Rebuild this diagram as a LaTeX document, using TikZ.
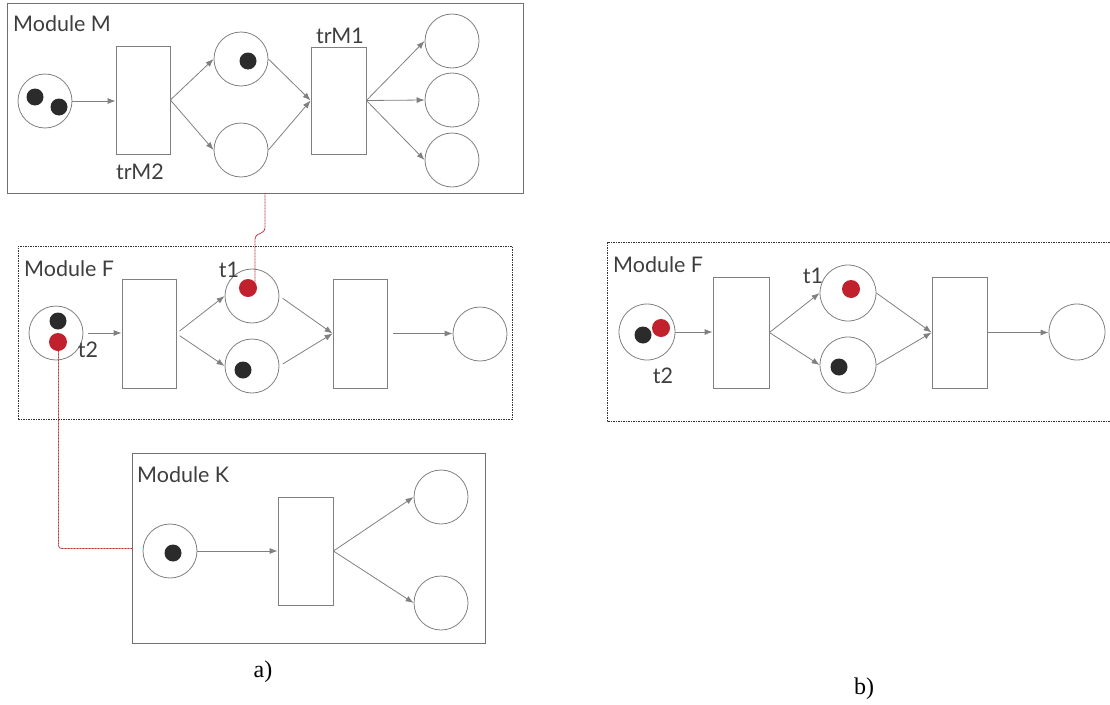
\documentclass[tikz,border=0pt]{standalone}
\usepackage{fontspec}
\setmainfont{Lato}
\newfontfamily\capfont{Liberation Serif}
\usetikzlibrary{arrows.meta}
\definecolor{edge}{HTML}{808080}
\definecolor{frame}{HTML}{707070}
\definecolor{ink}{HTML}{3E3E3E}
\definecolor{tokblack}{HTML}{2B2B2B}
\definecolor{tokred}{HTML}{C1212D}
\definecolor{linkred}{HTML}{B8323C}
\begin{document}
\begin{tikzpicture}[x=1pt,y=-1pt,
  place/.style={circle, draw=edge, line width=0.8pt, minimum size=54pt, inner sep=0pt},
  bigplace/.style={place, minimum size=56pt},
  trans/.style={rectangle, draw=edge, line width=0.8pt, inner sep=0pt, minimum width=54pt, minimum height=108pt},
  tokb/.style={circle, fill=tokblack, minimum size=17pt, inner sep=0pt},
  tokr/.style={circle, fill=tokred, minimum size=18pt, inner sep=0pt},
  arc/.style={draw=edge, line width=0.8pt, -{Latex[length=8pt,width=6pt]}},
  modsolid/.style={rectangle, draw=frame, line width=1pt, inner sep=0pt, anchor=north west},
  moddash/.style={rectangle, draw=black!80, line width=0.8pt, dash pattern=on 1.5pt off 1pt, inner sep=0pt, anchor=north west},
  modtitle/.style={font=\fontsize{21.5}{25}\selectfont, text=ink, inner sep=0pt, anchor=west},
  lbl/.style={font=\fontsize{21.5}{25}\selectfont, text=ink, inner sep=0pt},
  link/.style={draw=linkred, line width=0.9pt, dash pattern=on 1pt off 0.5pt, rounded corners=3pt},
  caption/.style={font=\capfont\fontsize{24}{28}\selectfont, text=black, inner sep=0pt}]
\useasboundingbox (0,0) rectangle (1110,704);

% ---------- module frames ----------
\node[modsolid, minimum width=516pt, minimum height=190pt] (mM) at (7,3) {};
\node[moddash, minimum width=494pt, minimum height=173pt] (mF) at (18,246) {};
\node[modsolid, minimum width=353pt, minimum height=190pt] (mK) at (132,453) {};
\draw[draw=black!80, line width=0.8pt, dash pattern=on 1.5pt off 1pt]
  (1112,242) -- (607,242) -- (607,421) -- (1112,421);

\node[modtitle] (tiM) at (13,24) {Module M};
\node[modtitle] (tiF) at (24,269) {Module F};
\node[modtitle] (tiK) at (137,475) {Module K};
\node[modtitle] (tiFb) at (613,265) {Module F};

% ---------- Module M ----------
\node[place] (pM1) at (45,101) {};
\node[trans] (tM2) at (143,100) {};
\node[place] (pM2) at (241,59) {};
\node[place] (pM3) at (241,150) {};
\node[trans, minimum width=55pt, minimum height=107pt] (tM1) at (338.5,100.5) {};
\node[place] (pM4) at (452,41) {};
\node[place] (pM5) at (452,100) {};
\node[place] (pM6) at (452,160) {};
\node[lbl] (lM2) at (140,172) {trM2};
\node[lbl] (lM1) at (340,36) {trM1};

\draw[arc] (pM1.east) -- (pM1.east -| tM2.west);
\draw[arc] (tM2.east) -- (pM2.west);
\draw[arc] (tM2.east) -- (pM3.west);
\draw[arc] (pM2.east) -- (tM1.west);
\draw[arc] (pM3.east) -- (tM1.west);
\draw[arc] (tM1.east) -- (pM4.west);
\draw[arc] (tM1.east) -- (pM5.west);
\draw[arc] (tM1.east) -- (pM6.west);

% ---------- Module F (a) ----------
\node[place] (pF1) at (56,333) {};
\node[trans, minimum height=109pt] (tF1) at (149,333.5) {};
\node[place] (pF2) at (252,296) {};
\node[place] (pF3) at (252,366) {};
\node[trans, minimum height=109pt] (tF2) at (360,333.5) {};
\node[place] (pF4) at (480,334) {};
\node[lbl] (lt1) at (229,270) {t1};
\node[lbl] (lt2) at (88,350) {t2};

\draw[arc, shorten <=5pt] (pF1.east) -- (pF1.east -| tF1.west);
\draw[arc, shorten <=4pt] (tF1.east) -- (pF2.west);
\draw[arc, shorten <=4pt] (tF1.east) -- (pF3.west);
\draw[arc, shorten <=4pt] (pF2.east) -- (tF2.west);
\draw[arc, shorten <=4pt] (pF3.east) -- (tF2.west);
\draw[arc, shorten <=6pt] (tF2.east) -- (tF2.east -| pF4.west);

% ---------- Module K ----------
\node[place] (pK1) at (170,551) {};
\node[trans, minimum width=55pt] (tK) at (305.5,551) {};
\node[place] (pK2) at (441,497) {};
\node[place] (pK3) at (441,603) {};

\draw[arc] (pK1.east) -- (pK1.east -| tK.west);
\draw[arc] (tK.east) -- (pK2.west);
\draw[arc] (tK.east) -- (pK3.west);

% ---------- Module F (b) ----------
\node[bigplace] (pB1) at (647,332) {};
\node[trans, minimum width=56pt, minimum height=111pt] (tB1) at (741,332.5) {};
\node[bigplace] (pB2) at (848,293) {};
\node[bigplace] (pB3) at (848,365) {};
\node[trans, minimum width=55pt, minimum height=111pt] (tB2) at (959.5,332.5) {};
\node[bigplace] (pB4) at (1077,332) {};
\node[lbl] (lbt1) at (813,276) {t1};
\node[lbl] (lbt2) at (663,376) {t2};

\draw[arc] (pB1.east) -- (pB1.east -| tB1.west);
\draw[arc] (tB1.east) -- (pB2.west);
\draw[arc] (tB1.east) -- (pB3.west);
\draw[arc] (pB2.east) -- (tB2.west);
\draw[arc] (pB3.east) -- (tB2.west);
\draw[arc] (tB2.east) -- (tB2.east -| pB4.west);

% ---------- shared-place links ----------
\coordinate (cM) at (265,193);
\coordinate (cT1) at (255,283);
\draw[link] (cM) -- (265,231) -- (255,236) -- (cT1);
\coordinate (cT2) at (58.5,342);
\draw[link] (cT2) |- (mK.west);

% ---------- tokens ----------
\node[tokb] (kM1) at (35,97) {};
\node[tokb] (kM2) at (59,107) {};
\node[tokb] (kM3) at (248,61) {};
\node[tokb] (kF1) at (58,321) {};
\node[tokr] (kF2) at (58,342) {};
\node[tokr] (kF3) at (248,288) {};
\node[tokb] (kF4) at (243,370) {};
\node[tokb] (kK1) at (173,553) {};
\node[tokb] (kB1) at (643,335) {};
\node[tokr] (kB2) at (661,328) {};
\node[tokr] (kB3) at (851,289) {};
\node[tokb] (kB4) at (839,367) {};

% ---------- captions ----------
\node[caption] (ca) at (263,672) {a)};
\node[caption] (cb) at (864,689) {b)};
\end{tikzpicture}
\end{document}
